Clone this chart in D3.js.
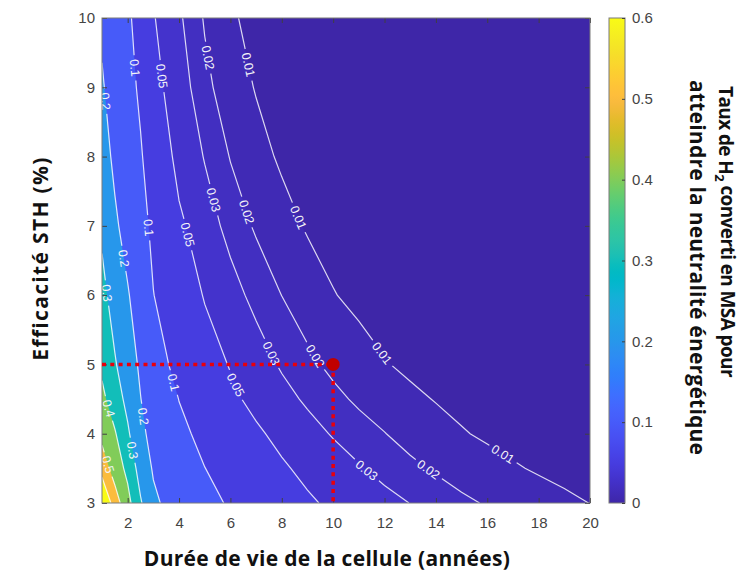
<!DOCTYPE html>
<html>
<head>
<meta charset="utf-8">
<script src="https://cdn.jsdelivr.net/npm/d3@7"></script>
<style>
  body { margin: 0; background: #fff; }
</style>
</head>
<body>
<div id="chart"></div>
<script>
// grid: columns = durée de vie (années), rows = efficacité STH (%)
var lifeCols = [1, 1.5, 2, 2.5, 3, 4, 5, 6, 7, 8, 9, 10, 11, 12, 13, 14, 15, 16, 17, 18, 19, 20];
var sthRows = [3, 3.5, 4, 4.5, 5, 6, 7, 8, 9, 10];

// taux de H2 converti en MSA, one list per STH row (same order as lifeCols)
var rateSth3   = [0.716, 0.549, 0.432, 0.310, 0.218, 0.151, 0.117, 0.094, 0.076, 0.063, 0.0535, 0.0456, 0.0391, 0.0339, 0.0298, 0.0255, 0.0221, 0.0191, 0.0160, 0.0136, 0.0116, 0.0099];
var rateSth3_5 = [0.56, 0.455, 0.375, 0.259, 0.191, 0.133, 0.1007, 0.0787, 0.0638, 0.0532, 0.0441, 0.0367, 0.0311, 0.0262, 0.0223, 0.0188, 0.0154, 0.0128, 0.0108, 0.0091, 0.0078, 0.0067];
var rateSth4   = [0.47, 0.409, 0.3135, 0.2226, 0.170, 0.1142, 0.0843, 0.0661, 0.0538, 0.0434, 0.0350, 0.0289, 0.0240, 0.0203, 0.0162, 0.0130, 0.0106, 0.0088, 0.0074, 0.0062, 0.0053, 0.0046];
var rateSth4_5 = [0.425, 0.346, 0.274, 0.202, 0.153, 0.0989, 0.0718, 0.0553, 0.0433, 0.0345, 0.0279, 0.0226, 0.0183, 0.0145, 0.0117, 0.0096, 0.0079, 0.0065, 0.0055, 0.0046, 0.0040, 0.0034];
var rateSth5   = [0.378, 0.309, 0.241, 0.187, 0.128, 0.0811, 0.0614, 0.0485, 0.0365, 0.0284, 0.0225, 0.0176, 0.0135, 0.0105, 0.0084, 0.0068, 0.0055, 0.0046, 0.0039, 0.0033, 0.0028, 0.0024];
var rateSth6   = [0.33, 0.256, 0.2085, 0.145, 0.101, 0.0669, 0.0483, 0.0350, 0.0262, 0.0199, 0.0142, 0.0104, 0.0079, 0.0062, 0.0049, 0.0039, 0.0032, 0.0027, 0.0022, 0.0019, 0.0016, 0.0014];
var rateSth7   = [0.28, 0.217, 0.161, 0.1177, 0.0895, 0.0548, 0.0365, 0.0258, 0.0187, 0.0129, 0.0092, 0.0068, 0.0052, 0.0040, 0.0032, 0.0026, 0.0021, 0.0017, 0.0015, 0.0012, 0.0011, 0.0009];
var rateSth8   = [0.245, 0.179, 0.133, 0.105, 0.0738, 0.0416, 0.0292, 0.0195, 0.0128, 0.0088, 0.0062, 0.0046, 0.0035, 0.0027, 0.0022, 0.0017, 0.0014, 0.0012, 0.0010, 0.0008, 0.0007, 0.0006];
var rateSth9   = [0.211, 0.151, 0.1176, 0.0915, 0.0589, 0.0359, 0.0228, 0.0142, 0.0095, 0.0065, 0.0046, 0.0034, 0.0026, 0.0020, 0.0016, 0.0013, 0.0010, 0.0009, 0.0007, 0.0006, 0.0005, 0.0005];
var rateSth10  = [0.18, 0.134, 0.109, 0.0785, 0.0515, 0.0318, 0.0190, 0.0113, 0.0072, 0.0049, 0.0035, 0.0026, 0.0020, 0.0015, 0.0012, 0.0010, 0.0008, 0.0007, 0.0006, 0.0005, 0.0004, 0.0004];

var levels = [0.01, 0.02, 0.03, 0.05, 0.1, 0.2, 0.3, 0.4, 0.5, 0.6];
var xTicks = [2, 4, 6, 8, 10, 12, 14, 16, 18, 20];
var yTicks = [3, 4, 5, 6, 7, 8, 9, 10];
var cbTicks = [0, 0.1, 0.2, 0.3, 0.4, 0.5, 0.6];

// clabel spots: [level, durée, efficacité]
var labelSpots = [
  [0.2, 1.18, 8.8], [0.1, 2.29, 9.28], [0.05, 3.06, 9.15], [0.02, 5.01, 9.42], [0.01, 6.64, 9.32],
  [0.3, 1.18, 6.03], [0.2, 1.83, 6.53], [0.1, 2.71, 6.97], [0.05, 4.3, 6.87], [0.03, 5.27, 7.37],
  [0.02, 6.64, 7.2], [0.01, 8.58, 7.11],
  [0.5, 1.18, 3.55], [0.4, 1.31, 4.37], [0.3, 2.16, 3.76], [0.2, 2.61, 4.25], [0.1, 3.71, 4.73],
  [0.05, 6.05, 4.68], [0.03, 7.48, 5.14], [0.02, 9.17, 5.09], [0.01, 11.83, 5.14],
  [0.03, 11.25, 3.45], [0.02, 13.65, 3.45], [0.01, 16.5, 3.64]
];

var markLife = 10, markSth = 5;

// parula (64)
var parulaRgb = [
  [0.2422,0.1504,0.6603],[0.2504,0.1650,0.7076],[0.2578,0.1818,0.7511],[0.2647,0.1978,0.7952],
  [0.2706,0.2147,0.8364],[0.2751,0.2342,0.8710],[0.2783,0.2559,0.8991],[0.2803,0.2782,0.9221],
  [0.2813,0.3006,0.9414],[0.2810,0.3228,0.9579],[0.2795,0.3447,0.9717],[0.2760,0.3667,0.9829],
  [0.2699,0.3892,0.9906],[0.2602,0.4123,0.9952],[0.2440,0.4358,0.9988],[0.2206,0.4603,0.9973],
  [0.1963,0.4847,0.9892],[0.1834,0.5074,0.9798],[0.1786,0.5289,0.9682],[0.1764,0.5499,0.9520],
  [0.1687,0.5703,0.9359],[0.1540,0.5902,0.9218],[0.1460,0.6091,0.9079],[0.1380,0.6276,0.8973],
  [0.1248,0.6459,0.8883],[0.1113,0.6635,0.8763],[0.0952,0.6798,0.8598],[0.0689,0.6948,0.8394],
  [0.0297,0.7082,0.8163],[0.0036,0.7203,0.7917],[0.0067,0.7312,0.7660],[0.0433,0.7411,0.7394],
  [0.0964,0.7500,0.7120],[0.1408,0.7584,0.6842],[0.1717,0.7670,0.6554],[0.1938,0.7758,0.6251],
  [0.2161,0.7843,0.5923],[0.2470,0.7918,0.5567],[0.2906,0.7973,0.5188],[0.3406,0.8008,0.4789],
  [0.3909,0.8029,0.4354],[0.4456,0.8024,0.3909],[0.5044,0.7993,0.3480],[0.5616,0.7942,0.3045],
  [0.6174,0.7876,0.2612],[0.6720,0.7793,0.2227],[0.7242,0.7698,0.1910],[0.7738,0.7598,0.1646],
  [0.8203,0.7498,0.1535],[0.8634,0.7406,0.1596],[0.9035,0.7330,0.1774],[0.9393,0.7288,0.2100],
  [0.9728,0.7298,0.2394],[0.9956,0.7434,0.2371],[0.9970,0.7659,0.2199],[0.9952,0.7893,0.2028],
  [0.9892,0.8136,0.1885],[0.9786,0.8386,0.1766],[0.9676,0.8639,0.1643],[0.9610,0.8890,0.1537],
  [0.9597,0.9135,0.1423],[0.9628,0.9373,0.1265],[0.9691,0.9606,0.1064],[0.9769,0.9839,0.0805]
];

var W = 743, H = 575;
var margin = { top: 18, right: 153, bottom: 72, left: 102 },
    width = W - margin.left - margin.right,
    height = H - margin.top - margin.bottom;

var svg = d3.select("#chart").append("svg")
    .attr("width", W)
    .attr("height", H)
    .style("font-family", "'Liberation Sans', Arial, sans-serif");

var defs = svg.append("defs");

var g = svg.append("g")
    .attr("transform", "translate(" + margin.left + "," + margin.top + ")");

var x = d3.scaleLinear().domain([1, 20]).range([0, width]);
var y = d3.scaleLinear().domain([3, 10]).range([height, 0]);

var parulaColors = parulaRgb.map(function (c) { return d3.rgb(c[0] * 255, c[1] * 255, c[2] * 255); });
var parula = d3.scaleLinear()
    .domain(parulaColors.map(function (c, i) { return i / (parulaColors.length - 1); }))
    .range(parulaColors)
    .interpolate(d3.interpolateRgb);
function colorOf(v) { return parula(Math.max(0, Math.min(1, v / 0.6))); }

// grid -> contours
var rows = [rateSth3, rateSth3_5, rateSth4, rateSth4_5, rateSth5, rateSth6, rateSth7, rateSth8, rateSth9, rateSth10];
var nx = lifeCols.length, ny = sthRows.length;
var values = [];
rows.forEach(function (r) { values = values.concat(r); });

var colIdx = d3.scaleLinear().domain(d3.range(nx)).range(lifeCols).clamp(true);
var rowIdx = d3.scaleLinear().domain(d3.range(ny)).range(sthRows).clamp(true);

function toPx(p) { return [x(colIdx(p[0] - 0.5)), y(rowIdx(p[1] - 0.5))]; }

var gridProj = d3.geoTransform({
  point: function (px, py) {
    var q = toPx([px, py]);
    this.stream.point(q[0], q[1]);
  }
});
var path = d3.geoPath(gridProj);

var contours = d3.contours().size([nx, ny]).thresholds(levels)(values);

defs.append("clipPath").attr("id", "plotClip")
  .append("rect").attr("width", width).attr("height", height);

var field = g.append("g").attr("clip-path", "url(#plotClip)");

field.append("rect")
    .attr("width", width)
    .attr("height", height)
    .attr("fill", colorOf(0));

field.selectAll("path.band")
  .data(contours)
  .join("path")
    .attr("class", "band")
    .attr("d", path)
    .attr("fill", function (d) { return colorOf(d.value); });

// isolines = contour rings without the frame segments
function sameEdge(a, b) {
  var ia = a[0] - 0.5, ib = b[0] - 0.5, ja = a[1] - 0.5, jb = b[1] - 0.5;
  return (ia <= 0 && ib <= 0) || (ia >= nx - 1 && ib >= nx - 1) ||
         (ja <= 0 && jb <= 0) || (ja >= ny - 1 && jb >= ny - 1);
}

function isolines(c) {
  var out = [];
  c.coordinates.forEach(function (poly) {
    poly.forEach(function (ring) {
      var cur = [];
      for (var k = 0; k < ring.length - 1; k++) {
        var a = ring[k], b = ring[k + 1];
        if (sameEdge(a, b)) {
          if (cur.length > 1) out.push(cur);
          cur = [];
          continue;
        }
        if (!cur.length) cur.push(toPx(a));
        cur.push(toPx(b));
      }
      if (cur.length > 1) out.push(cur);
    });
  });
  return out;
}

var lineSets = {};
contours.forEach(function (c) { lineSets[c.value] = isolines(c); });

var mask = defs.append("mask").attr("id", "gapMask")
    .attr("maskUnits", "userSpaceOnUse")
    .attr("x", -margin.left).attr("y", -margin.top).attr("width", W).attr("height", H);
mask.append("rect")
    .attr("x", -margin.left).attr("y", -margin.top)
    .attr("width", W).attr("height", H)
    .attr("fill", "white");

var lineG = field.append("g").attr("mask", "url(#gapMask)");
var lineGen = d3.line();

levels.forEach(function (lv) {
  lineG.selectAll(null)
    .data(lineSets[lv])
    .join("path")
      .attr("d", lineGen)
      .attr("fill", "none")
      .attr("stroke", "#ffffff")
      .attr("stroke-opacity", 0.82)
      .attr("stroke-width", 1.2);
});

// contour labels
var labelG = field.append("g");

labelSpots.forEach(function (s) {
  var px = x(s[1]), py = y(s[2]), best = null;
  lineSets[s[0]].forEach(function (pts) {
    for (var k = 0; k < pts.length - 1; k++) {
      var a = pts[k], b = pts[k + 1];
      var dx = b[0] - a[0], dy = b[1] - a[1], len2 = dx * dx + dy * dy || 1;
      var t = Math.max(0, Math.min(1, ((px - a[0]) * dx + (py - a[1]) * dy) / len2));
      var qx = a[0] + t * dx, qy = a[1] + t * dy;
      var d2 = (qx - px) * (qx - px) + (qy - py) * (qy - py);
      if (!best || d2 < best.d2) best = { d2: d2, qx: qx, qy: qy, pts: pts, k: k };
    }
  });
  if (!best) return;
  var p0 = best.pts[Math.max(0, best.k - 1)], p1 = best.pts[Math.min(best.pts.length - 1, best.k + 2)];
  var ang = Math.atan2(p1[1] - p0[1], p1[0] - p0[0]) * 180 / Math.PI;
  if (ang > 90) ang -= 180;
  if (ang <= -90) ang += 180;
  var tf = "translate(" + best.qx + "," + best.qy + ") rotate(" + ang + ")";

  var txt = labelG.append("text")
      .attr("transform", tf)
      .attr("text-anchor", "middle")
      .attr("dy", "0.36em")
      .attr("fill", "#f4f4f8")
      .style("font-size", "12.5px")
      .text(d3.format("")(s[0]));
  var tw = txt.node().getComputedTextLength();
  mask.append("rect")
      .attr("transform", tf)
      .attr("x", -tw / 2 - 4).attr("y", -7)
      .attr("width", tw + 8).attr("height", 14)
      .attr("fill", "black");
});

// axes
function styleAxis(sel) {
  sel.select(".domain").remove();
  sel.selectAll(".tick line").attr("stroke", "#404040");
  sel.selectAll(".tick text").attr("fill", "#444").style("font-size", "15px");
}

g.append("g")
    .attr("transform", "translate(0," + height + ")")
    .call(d3.axisBottom(x).tickValues(xTicks).tickSizeInner(-5).tickSizeOuter(0).tickPadding(14).tickFormat(d3.format("d")))
    .call(styleAxis);

g.append("g")
    .call(d3.axisTop(x).tickValues(xTicks).tickSizeInner(-5).tickSizeOuter(0).tickFormat(""))
    .call(styleAxis);

g.append("g")
    .call(d3.axisLeft(y).tickValues(yTicks).tickSizeInner(-5).tickSizeOuter(0).tickPadding(7).tickFormat(d3.format("d")))
    .call(styleAxis);

g.append("g")
    .attr("transform", "translate(" + width + ",0)")
    .call(d3.axisRight(y).tickValues(yTicks).tickSizeInner(-5).tickSizeOuter(0).tickFormat(""))
    .call(styleAxis);

g.append("rect")
    .attr("width", width)
    .attr("height", height)
    .attr("fill", "none")
    .attr("stroke", "#7a7a7a")
    .attr("stroke-width", 1);

// red marker
g.append("path")
    .attr("d", d3.line()([[x(1), y(markSth)], [x(markLife), y(markSth)]]))
    .attr("stroke", "#e8000b")
    .attr("stroke-width", 3.5)
    .attr("stroke-dasharray", "4,4.3")
    .attr("fill", "none");

g.append("path")
    .attr("d", d3.line()([[x(markLife), y(markSth)], [x(markLife), y(3)]]))
    .attr("stroke", "#e8000b")
    .attr("stroke-width", 3.5)
    .attr("stroke-dasharray", "4,4.3")
    .attr("fill", "none");

g.append("circle")
    .attr("cx", x(markLife))
    .attr("cy", y(markSth))
    .attr("r", 6.5)
    .attr("fill", "#c00000");

// colorbar
var cbX = 507, cbW = 16;
var cb = d3.scaleLinear().domain([0, 0.6]).range([height, 0]);

var grad = defs.append("linearGradient").attr("id", "parulaGrad")
    .attr("x1", 0).attr("y1", 1).attr("x2", 0).attr("y2", 0);
grad.selectAll("stop")
  .data(parulaColors)
  .join("stop")
    .attr("offset", function (d, i) { return i / (parulaColors.length - 1); })
    .attr("stop-color", function (d) { return d.formatHex(); });

g.append("rect")
    .attr("x", cbX)
    .attr("width", cbW)
    .attr("height", height)
    .attr("fill", "url(#parulaGrad)")
    .attr("stroke", "#7a7a7a")
    .attr("stroke-width", 1);

g.append("g")
    .attr("transform", "translate(" + (cbX + cbW) + ",0)")
    .call(d3.axisRight(cb).tickValues(cbTicks).tickSizeInner(-3).tickSizeOuter(0).tickPadding(7).tickFormat(d3.format("")))
    .call(styleAxis);

// titles
var titleFont = "'Open Sans', Lato, sans-serif";

// nudge letter spacing so a title spans about the same length as in the picture
function title(sel, target, size) {
  sel.style("font-family", titleFont)
     .style("font-weight", "bold")
     .style("font-size", (size || 21) + "px")
     .attr("fill", "#111");
  var node = sel.node(), n = node.textContent.length;
  var w = node.getComputedTextLength();
  var ls = Math.max(-0.6, Math.min(2, (target - w) / (n - 1)));
  sel.style("letter-spacing", ls + "px");
}

svg.append("text")
    .attr("x", 327)
    .attr("y", 566)
    .attr("text-anchor", "middle")
    .text("Durée de vie de la cellule (années)")
    .call(title, 366);

svg.append("text")
    .attr("transform", "translate(48,258.5) rotate(-90)")
    .attr("text-anchor", "middle")
    .text("Efficacité STH (%)")
    .call(title, 203);

var t1 = svg.append("text")
    .attr("transform", "translate(719,86) rotate(90)");
t1.append("tspan").text("Taux de H");
t1.append("tspan").attr("dy", "0.3em").style("font-size", "13px").text("2");
t1.append("tspan").attr("dy", "-0.3em").text(" converti en MSA pour");
t1.call(title, 249, 19);

svg.append("text")
    .attr("transform", "translate(690,80) rotate(90)")
    .text("atteindre la neutralité énergétique")
    .call(title, 375);
</script>
</body>
</html>
